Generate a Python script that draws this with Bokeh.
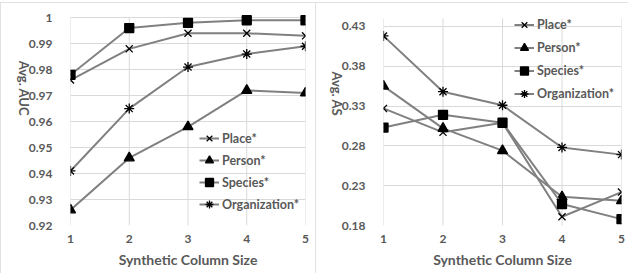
from bokeh.plotting import figure
from bokeh.layouts import row
from bokeh.models import FixedTicker, Legend, LegendItem, Range1d, InlineStyleSheet
from bokeh.embed import file_html
from bokeh.resources import INLINE
import math

# ---- data ----
sizes = [1, 2, 3, 4, 5]
series_names = ["Place*", "Person*", "Species*", "Organization*"]
markers = ["x", "triangle", "square", "asterisk"]

auc_place = [0.976, 0.988, 0.994, 0.994, 0.993]
auc_person = [0.926, 0.946, 0.958, 0.972, 0.971]
auc_species = [0.978, 0.996, 0.998, 0.999, 0.999]
auc_org = [0.941, 0.965, 0.981, 0.986, 0.989]

as_place = [0.327, 0.297, 0.309, 0.191, 0.222]
as_person = [0.355, 0.302, 0.274, 0.216, 0.211]
as_species = [0.303, 0.319, 0.309, 0.207, 0.188]
as_org = [0.418, 0.348, 0.331, 0.278, 0.269]

auc_ticks = [0.92, 0.93, 0.94, 0.95, 0.96, 0.97, 0.98, 0.99, 1.0]
auc_labels = ["0.92", "0.93", "0.94", "0.95", "0.96", "0.97", "0.98", "0.99", "1"]
as_ticks = [0.18, 0.23, 0.28, 0.33, 0.38, 0.43]
as_labels = ["0.18", "0.23", "0.28", "0.33", "0.38", "0.43"]
auc_axis = (0.92, 1.0)
as_axis = (0.18, 0.44)
x_labels = ["1", "2", "3", "4", "5"]
x_title = "Synthetic Column Size"

FONT = "Lato"
TXT = "#595959"
GRID = "#d9d9d9"
LINE = "#808080"
MSIZE = {"x": 10, "triangle": 10, "square": 9, "asterisk": 10}

border_css = InlineStyleSheet(css=":host { outline: 1px solid #d9d9d9; outline-offset: -1px; }")


def make_panel(series, axis_rng, view_top, ticks, labels, ytitle, w, h, mb,
               leg_loc, leg_h):
    p = figure(width=w, height=h, output_backend="svg", toolbar_location=None,
               title=None,
               x_range=Range1d(1, 5), y_range=Range1d(axis_rng[0], view_top),
               min_border_left=mb[0], min_border_right=mb[1],
               min_border_top=mb[2], min_border_bottom=mb[3],
               stylesheets=[border_css])
    p.outline_line_color = None
    p.background_fill_color = "white"
    p.border_fill_color = "white"
    p.xgrid.visible = False
    p.ygrid.grid_line_color = GRID
    p.ygrid.ticker = FixedTicker(ticks=ticks)
    # vertical category gridlines, stopping at the axis maximum
    p.segment(x0=sizes, y0=[axis_rng[0]] * len(sizes), x1=sizes,
              y1=[axis_rng[1]] * len(sizes), line_color=GRID, line_width=1)
    for ax in (p.xaxis[0], p.yaxis[0]):
        ax.axis_line_color = None
        ax.major_tick_line_color = None
        ax.minor_tick_line_color = None
        ax.major_label_text_font = FONT
        ax.major_label_text_font_style = "bold"
        ax.major_label_text_font_size = "12px"
        ax.major_label_text_color = TXT
        ax.axis_label_text_font = FONT
        ax.axis_label_text_font_style = "bold"
        ax.axis_label_text_color = TXT
    p.xaxis.ticker = FixedTicker(ticks=sizes)
    p.xaxis.major_label_overrides = {str(s): l for s, l in zip(sizes, x_labels)}
    p.xaxis.major_label_standoff = 3
    p.xaxis.axis_label = x_title
    p.xaxis.axis_label_text_font_size = "14px"
    p.xaxis.axis_label_standoff = 5
    p.yaxis.ticker = FixedTicker(ticks=ticks)
    p.yaxis.major_label_overrides = {f"{t:g}": l for t, l in zip(ticks, labels)}
    p.yaxis.major_label_standoff = 12
    p.yaxis.axis_label = ytitle
    p.yaxis.axis_label_text_font_size = "13px"
    p.yaxis.axis_label_orientation = -math.pi / 2
    p.yaxis.axis_label_standoff = 2

    items = []
    for name, mk, ys in zip(series_names, markers, series):
        ln = p.line(sizes, ys, line_color=LINE, line_width=2)
        sc = p.scatter(sizes, ys, marker=mk, size=MSIZE[mk], fill_color="black",
                       line_color="black", line_width=1.3)
        items.append(LegendItem(label=name, renderers=[ln, sc]))
    leg = Legend(items=items, location=leg_loc, background_fill_alpha=0,
                 border_line_color=None, padding=0, margin=0, spacing=0,
                 glyph_width=20, glyph_height=leg_h, label_height=leg_h, label_standoff=3,
                 label_text_font=FONT, label_text_font_style="bold",
                 label_text_font_size="12.5px", label_text_color=TXT)
    p.add_layout(leg, "center")
    return p


p1 = make_panel([auc_place, auc_person, auc_species, auc_org], auc_axis, 1.0043,
                auc_ticks, auc_labels, "Avg. AUC", 315, 271, (70, 10, 4, 48),
                (129, 10), 22)
p2 = make_panel([as_place, as_person, as_species, as_org], as_axis, 0.455,
                as_ticks, as_labels, "Avg. AS", 313, 271, (68, 7, 4, 48),
                (131, 120), 23)
p1.margin = (2, 0, 0, 0)
p2.margin = (2, 0, 0, 0)

layout = row(p1, p2)

open("out.html", "w").write(file_html(layout, INLINE))
